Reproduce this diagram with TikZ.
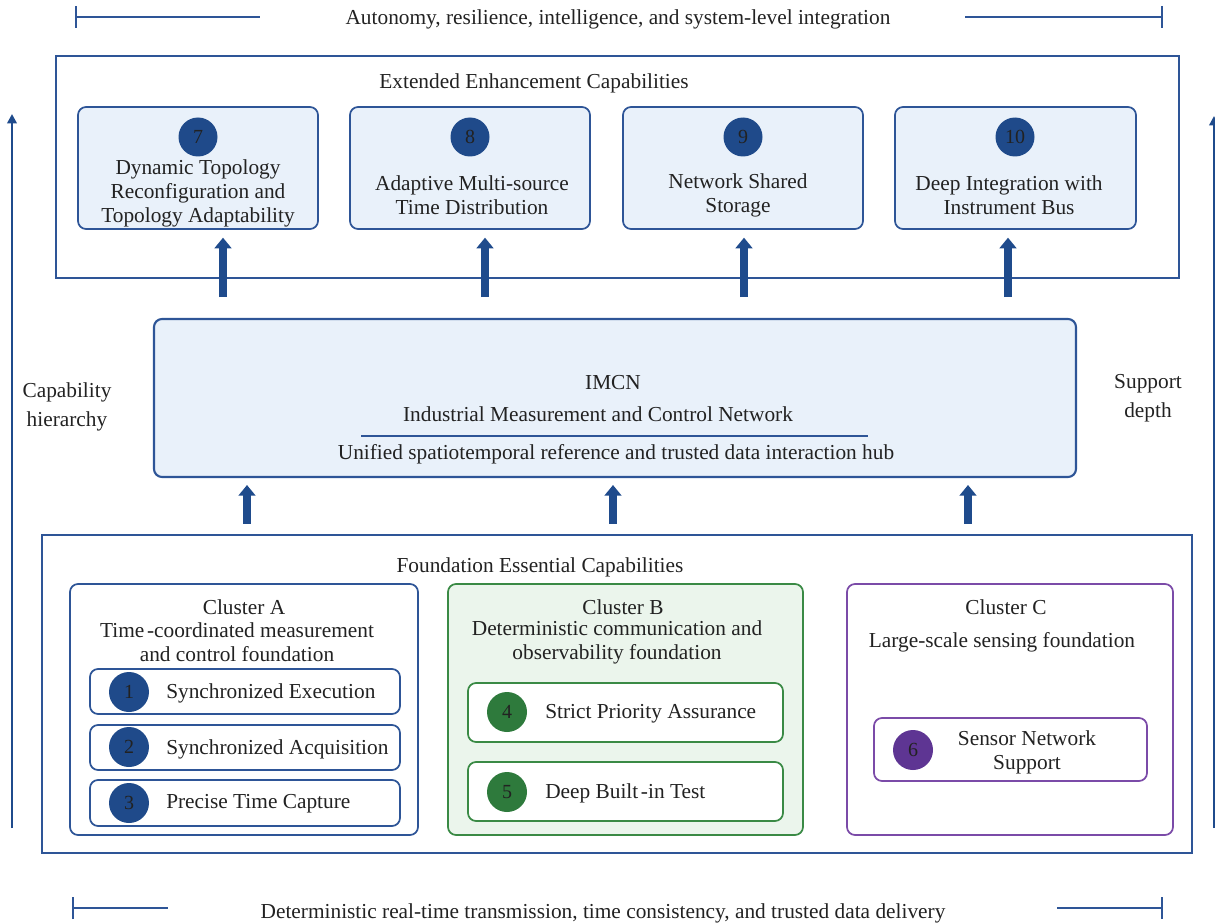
\documentclass[tikz,border=0pt]{standalone}
\usepackage{fontspec}
\setmainfont{Liberation Serif}
\usetikzlibrary{arrows.meta,calc}
\definecolor{bline}{HTML}{2E5597}
\definecolor{barrow}{HTML}{1F4B8C}
\definecolor{bcirc}{HTML}{1F4A8A}
\definecolor{bfill}{HTML}{E9F1FA}
\definecolor{gline}{HTML}{3A8A45}
\definecolor{gfill}{HTML}{EBF5EC}
\definecolor{gcirc}{HTML}{2E7A3C}
\definecolor{pline}{HTML}{7B4BA8}
\definecolor{pcirc}{HTML}{5E3593}
\definecolor{txt}{HTML}{222222}
\def\u{0.75pt}
\begin{document}
\begin{tikzpicture}[x=0.75pt,y=-0.75pt,
  every node/.style={text=txt, font=\fontsize{16}{18}\selectfont},
  frame/.style={draw=bline, line width=1.5pt, inner sep=0, outer sep=0, anchor=north west},
  card/.style={frame, rounded corners=6pt, line width=1.3pt},
  numdot/.style={circle, inner sep=0, minimum size=#1*\u, font=\fontsize{15}{17}\selectfont},
  lbl/.style={align=center, inner sep=0},
  bigarrow/.style={draw=barrow, line width=6pt, -{Triangle[width=12.5pt,length=8pt]}, color=barrow},
  longarrow/.style={draw=barrow, line width=2.2pt, -{Triangle[width=7pt,length=7pt]}, color=barrow},
  barline/.style={draw=bline, line width=1.5pt}
]
\useasboundingbox (0,0) rectangle (1215,924);

% ---- top and bottom bars
\coordinate (t1) at (75,17); \coordinate (t2) at (260,17);
\coordinate (t3) at (965,17); \coordinate (t4) at (1163,17);
\draw[barline, {Bar[width=16.5pt]}-] (t1) -- (t2);
\draw[barline, -{Bar[width=16.5pt]}] (t3) -- (t4);
\node[lbl] (toptext) at (618,19) {Autonomy, resilience, intelligence, and system-level integration};

\coordinate (b1) at (72,908); \coordinate (b2) at (168,908);
\coordinate (b3) at (1057,908); \coordinate (b4) at (1163,908);
\draw[barline, {Bar[width=16.5pt]}-] (b1) -- (b2);
\draw[barline, -{Bar[width=16.5pt]}] (b3) -- (b4);
\node[lbl] (bottext) at (603,913) {Deterministic real-time transmission, time consistency, and trusted data delivery};

% ---- side arrows
\coordinate (la0) at (12,828); \coordinate (la1) at (12,114);
\draw[longarrow] (la0) -- (la1);
\node[lbl] (lefttext) at (67,407) {Capability\\[3.5pt]hierarchy};
\coordinate (ra0) at (1214,828); \coordinate (ra1) at (1214,116);
\draw[longarrow] (ra0) -- (ra1);
\node[lbl] (righttext) at (1148,398) {Support\\[3.5pt]depth};

% ---- extended enhancement capabilities
\node[frame, minimum width=1123*\u, minimum height=222*\u] (ext) at (56,56) {};
\node[lbl] (exttitle) at (534,83) {Extended Enhancement Capabilities};

\node[card, fill=bfill, minimum width=240*\u, minimum height=122*\u] (c7) at (78,107) {};
\node[card, fill=bfill, minimum width=240*\u, minimum height=122*\u] (c8) at (350,107) {};
\node[card, fill=bfill, minimum width=240*\u, minimum height=122*\u] (c9) at (623,107) {};
\node[card, fill=bfill, minimum width=241*\u, minimum height=122*\u] (c10) at (895,107) {};

\node[numdot=39, fill=bcirc] (n7) at (198,137) {7};
\node[numdot=39, fill=bcirc] (n8) at (470,137) {8};
\node[numdot=39, fill=bcirc] (n9) at (743,137) {9};
\node[numdot=39, fill=bcirc] (n10) at (1015,137) {10};

\node[lbl] (t7) at (198,193) {Dynamic Topology\\Reconfiguration and\\Topology Adaptability};
\node[lbl] (t8) at (472,195) {Adaptive Multi-source\\Time Distribution};
\node[lbl] (t9) at (738,195) {Network Shared\\Storage};
\node[lbl] (t10) at (1009,195) {Deep Integration with\\Instrument Bus};

% ---- IMCN hub
\node[card, fill=bfill, line width=1.6pt, minimum width=922*\u, minimum height=158*\u] (imcn) at (154,319) {};
\node[lbl] (imcn1) at (613,383) {IMCN};
\node[lbl] (imcn2) at (598,414) {Industrial Measurement and Control Network};
\coordinate (hl0) at (361,436); \coordinate (hl1) at (868,436);
\draw[draw=bline, line width=1.4pt] (hl0) -- (hl1);
\node[lbl] (imcn3) at (616,454) {Unified spatiotemporal reference and trusted data interaction hub};

% ---- arrows IMCN -> extended
\draw[bigarrow, shorten <=16.5pt, shorten >=6.5pt] (imcn.north -| 223,0) -- (c7.south -| 223,0);
\draw[bigarrow, shorten <=16.5pt, shorten >=6.5pt] (imcn.north -| 485,0) -- (c8.south -| 485,0);
\draw[bigarrow, shorten <=16.5pt, shorten >=6.5pt] (imcn.north -| 744,0) -- (c9.south -| 744,0);
\draw[bigarrow, shorten <=16.5pt, shorten >=6.5pt] (imcn.north -| 1008,0) -- (c10.south -| 1008,0);

% ---- foundation essential capabilities
\node[frame, minimum width=1150*\u, minimum height=318*\u] (found) at (42,535) {};
\node[lbl] (foundtitle) at (540,567) {Foundation Essential Capabilities};

\draw[bigarrow, shorten <=8.5pt, shorten >=6pt] (found.north -| 247,0) -- (imcn.south -| 247,0);
\draw[bigarrow, shorten <=8.5pt, shorten >=6pt] (found.north -| 613,0) -- (imcn.south -| 613,0);
\draw[bigarrow, shorten <=8.5pt, shorten >=6pt] (found.north -| 968,0) -- (imcn.south -| 968,0);

% Cluster A
\node[card, fill=white, minimum width=348*\u, minimum height=251*\u] (ca) at (70,584) {};
\node[lbl] (cat1) at (244,607) {Cluster A};
\node[lbl] (cat2) at (237,642) {Time\hspace{2pt}-coordinated measurement\\and control foundation};
\node[card, fill=white, minimum width=310*\u, minimum height=45*\u] (i1) at (90,669) {};
\node[card, fill=white, minimum width=310*\u, minimum height=45*\u] (i2) at (90,725) {};
\node[card, fill=white, minimum width=310*\u, minimum height=46*\u] (i3) at (90,780) {};
\node[numdot=40, fill=bcirc] (n1) at (129,692) {1};
\node[numdot=40, fill=bcirc] (n2) at (129,747) {2};
\node[numdot=40, fill=bcirc] (n3) at (129,803) {3};
\node[lbl, anchor=west] (it1) at (166,693) {Synchronized Execution};
\node[lbl, anchor=west] (it2) at (166,749) {Synchronized Acquisition};
\node[lbl, anchor=west] (it3) at (166,804) {Precise Time Capture};

% Cluster B
\node[card, draw=gline, fill=gfill, minimum width=355*\u, minimum height=251*\u] (cb) at (448,584) {};
\node[lbl] (cbt1) at (623,607) {Cluster B};
\node[lbl] (cbt2) at (617,642) {Deterministic communication and\\observability foundation};
\node[card, draw=gline, fill=white, minimum width=315*\u, minimum height=59*\u] (i4) at (468,683) {};
\node[card, draw=gline, fill=white, minimum width=315*\u, minimum height=59*\u] (i5) at (468,762) {};
\node[numdot=40, fill=gcirc] (n4) at (507,712) {4};
\node[numdot=40, fill=gcirc] (n5) at (507,792) {5};
\node[lbl, anchor=west] (it4) at (545,714) {Strict Priority Assurance};
\node[lbl, anchor=west] (it5) at (545,793) {Deep Built\hspace{2pt}-in Test};

% Cluster C
\node[card, draw=pline, fill=white, minimum width=326*\u, minimum height=251*\u] (cc) at (847,584) {};
\node[lbl] (cct1) at (1006,607) {Cluster C};
\node[lbl] (cct2) at (1002,642) {Large-scale sensing foundation};
\node[card, draw=pline, fill=white, minimum width=273*\u, minimum height=63*\u] (i6) at (874,718) {};
\node[numdot=40, fill=pcirc] (n6) at (913,750) {6};
\node[lbl] (it6) at (1027,752) {Sensor Network\\Support};

\end{tikzpicture}
\end{document}
